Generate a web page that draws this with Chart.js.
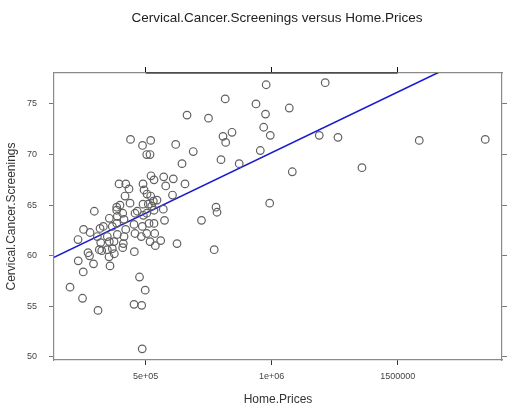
<!DOCTYPE html>
<html>
<head>
<meta charset="utf-8">
<script src="https://cdn.jsdelivr.net/npm/chart.js@4/dist/chart.umd.min.js"></script>
<style>
  html, body { margin: 0; padding: 0; background: #fff; }
  #wrap { width: 517px; height: 411px; }
</style>
</head>
<body>
<div id="wrap"><canvas id="scatter" width="517" height="411"></canvas></div>
<script>
// Home.Prices (x) and Cervical.Cancer.Screenings (y)
const homePrices = [
  439700, 487300, 519800, 504000, 517100, 619000, 688500, 644000, 663900, 749200,
  815500, 937700, 806700, 817400, 842400, 798800, 871000, 978100, 1212300, 1069800,
  975400, 968200, 994400, 1188800, 1263000, 1585600, 1847500, 954700, 1081700, 1358300,
  992000, 779000, 782900, 721400, 771800, 394100, 421000, 433700, 489300, 493300,
  505200, 521000, 532900, 571400, 579400, 609500, 655900, 417900, 437700, 384900,
  384900, 398000, 296000, 489300, 510300, 530200, 544800, 523800, 569800, 606300,
  519800, 355600, 387300, 408700, 413900, 457500, 466700, 490500, 504000, 532900,
  574600, 318700, 331800, 367500, 384900, 420600, 453600, 486500, 513100, 532900,
  253200, 279000, 231400, 308000, 347600, 321400, 355600, 374200, 387300, 413900,
  457500, 482500, 504000, 535700, 517100, 559500, 538100, 624200, 411100, 408700,
  367500, 315900, 325400, 347600, 354400, 375400, 454800, 271000, 277000, 232200,
  292900, 358300, 252000, 199600, 249200, 310700, 475400, 498000, 453600, 484100,
  486100
];
const screenings = [
  71.5, 70.9, 71.4, 70.0, 70.0, 71.0, 70.3, 69.1, 73.9, 73.6,
  75.5, 75.0, 71.8, 71.2, 72.2, 69.5, 69.1, 76.9, 77.1, 74.6,
  74.0, 72.7, 71.9, 71.9, 71.7, 71.4, 71.5, 70.4, 68.3, 68.7,
  65.2, 64.8, 64.3, 63.5, 60.6, 67.1, 67.1, 66.6, 67.1, 66.5,
  66.1, 67.9, 67.5, 67.8, 66.9, 67.6, 67.1, 65.9, 65.2, 64.8,
  64.5, 65.0, 64.4, 65.1, 65.1, 65.4, 65.5, 64.9, 64.6, 66.0,
  65.9, 63.7, 63.9, 64.2, 63.6, 64.2, 64.4, 64.0, 64.2, 64.5,
  63.5, 62.7, 62.9, 62.9, 63.2, 62.6, 63.1, 62.9, 63.2, 63.2,
  62.6, 62.3, 61.6, 61.9, 61.9, 61.3, 61.4, 61.4, 62.1, 61.9,
  62.2, 61.9, 62.2, 62.2, 61.4, 61.5, 61.0, 61.2, 61.2, 60.8,
  60.7, 60.6, 60.5, 60.6, 59.9, 60.2, 60.4, 60.3, 60.0, 59.5,
  59.2, 59.0, 58.4, 56.9, 55.8, 54.6, 57.9, 56.6, 55.2, 55.1,
  50.8
];

// fitted line, two ends
const fitX = [136000, 1700000];
const fitY = [59.85, 78.57];

const xTicks = [500000, 1000000, 1500000];
const xTickLabels = ['5e+05', '1e+06', '1500000'];
const yTicks = [50, 55, 60, 65, 70, 75];

const xMin = 136000, xMax = 1914000;
const yMin = 49.7, yMax = 78.06;

const FONT = "'Liberation Sans', Arial, sans-serif";

document.addEventListener("DOMContentLoaded", function () {
    const ctx = document.getElementById('scatter').getContext('2d');

    const points = homePrices.map((x, i) => ({ x: x, y: screenings[i] }));
    const fitLine = fitX.map((x, i) => ({ x: x, y: fitY[i] }));

    const titlePlugin = {
        id: 'latticeBits',
        afterDraw(chart) {
            const c = chart.ctx;
            const area = chart.chartArea;
            const top = chart.scales.x2;
            c.save();
            // dark axis line across the top ticks
            c.strokeStyle = '#111';
            c.lineWidth = 1.2;
            c.beginPath();
            c.moveTo(top.getPixelForValue(xTicks[0]), area.top);
            c.lineTo(top.getPixelForValue(xTicks[xTicks.length - 1]), area.top);
            c.stroke();
            // main title
            c.fillStyle = '#222';
            c.font = '13.5px ' + FONT;
            c.textAlign = 'center';
            c.textBaseline = 'middle';
            c.fillText('Cervical.Cancer.Screenings versus Home.Prices', 277, 18);
            c.restore();
        }
    };

    new Chart(ctx, {
        type: 'scatter',
        data: {
            datasets: [{
                label: 'points',
                data: points,
                pointRadius: 3.8,
                pointHoverRadius: 3.8,
                pointBorderWidth: 1.2,
                pointBorderColor: '#606060',
                pointBackgroundColor: 'rgba(0,0,0,0)',
                showLine: false
            }, {
                label: 'fit',
                type: 'line',
                data: fitLine,
                borderColor: '#1a1ad0',
                borderWidth: 1.6,
                pointRadius: 0,
                fill: false,
                tension: 0
            }]
        },
        options: {
            responsive: false,
            animation: false,
            devicePixelRatio: 1,
            layout: { padding: 0 },
            plugins: {
                legend: { display: false },
                tooltip: { enabled: false }
            },
            scales: {
                x: {
                    type: 'linear',
                    position: 'bottom',
                    min: xMin, max: xMax,
                    afterBuildTicks: s => { s.ticks = xTicks.map(v => ({ value: v })); },
                    afterFit: s => { s.height = 51; },
                    ticks: {
                        color: '#444',
                        font: { family: FONT, size: 9 },
                        padding: 6,
                        maxRotation: 0,
                        callback: (v) => xTickLabels[xTicks.indexOf(v)]
                    },
                    grid: { drawOnChartArea: false, drawTicks: true, tickLength: 5, color: '#333' },
                    border: { display: true, color: '#8a8a8a', width: 1.2 },
                    title: {
                        display: true, text: 'Home.Prices', color: '#333',
                        font: { family: FONT, size: 12 }, padding: { top: 7 }
                    }
                },
                x2: {
                    type: 'linear',
                    position: 'top',
                    min: xMin, max: xMax,
                    afterBuildTicks: s => { s.ticks = xTicks.map(v => ({ value: v })); },
                    afterFit: s => { s.height = 73; },
                    ticks: { callback: () => '', font: { size: 1 } },
                    grid: { drawOnChartArea: false, drawTicks: true, tickLength: 6, color: '#111' },
                    border: { display: true, color: '#8a8a8a', width: 1.2 }
                },
                y: {
                    type: 'linear',
                    position: 'left',
                    min: yMin, max: yMax,
                    afterBuildTicks: s => { s.ticks = yTicks.map(v => ({ value: v })); },
                    afterFit: s => { s.width = 54; },
                    ticks: {
                        color: '#444',
                        font: { family: FONT, size: 9 },
                        padding: 12
                    },
                    grid: { drawOnChartArea: false, drawTicks: true, tickLength: 5, color: '#777' },
                    border: { display: true, color: '#8a8a8a', width: 1.2 },
                    title: {
                        display: true, text: 'Cervical.Cancer.Screenings', color: '#333',
                        font: { family: FONT, size: 12 }, padding: { top: 4, bottom: 0 }
                    }
                },
                y2: {
                    type: 'linear',
                    position: 'right',
                    min: yMin, max: yMax,
                    afterBuildTicks: s => { s.ticks = yTicks.map(v => ({ value: v })); },
                    afterFit: s => { s.width = 15; },
                    ticks: { callback: () => '', font: { size: 1 } },
                    grid: { drawOnChartArea: false, drawTicks: true, tickLength: 5, color: '#777' },
                    border: { display: true, color: '#8a8a8a', width: 1.2 }
                }
            }
        },
        plugins: [titlePlugin]
    });
});
</script>
</body>
</html>
